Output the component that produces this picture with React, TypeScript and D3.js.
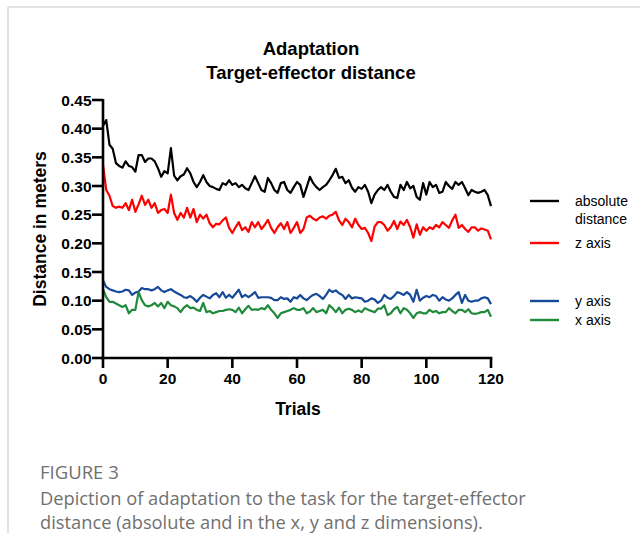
import React from "react";
import * as d3 from "d3";

const trials = d3.range(0, 121);

const absoluteDistance = [
  0.405, 0.415, 0.372, 0.365, 0.34, 0.335, 0.332, 0.343, 0.335, 0.333,
  0.325, 0.354, 0.354, 0.342, 0.348, 0.348, 0.343, 0.331, 0.316, 0.326,
  0.322, 0.366, 0.318, 0.31, 0.317, 0.32, 0.331, 0.322, 0.307, 0.298,
  0.307, 0.319, 0.307, 0.3, 0.298, 0.295, 0.293, 0.305, 0.302, 0.31,
  0.302, 0.305, 0.298, 0.302, 0.296, 0.293, 0.305, 0.317, 0.305, 0.293,
  0.29, 0.314, 0.305, 0.293, 0.288, 0.305, 0.307, 0.293, 0.288, 0.298,
  0.307, 0.302, 0.281, 0.298, 0.316, 0.305, 0.298, 0.293, 0.298, 0.302,
  0.31, 0.319, 0.33, 0.314, 0.316, 0.305, 0.31, 0.297, 0.29, 0.298,
  0.295, 0.302, 0.29, 0.27, 0.285, 0.293, 0.298, 0.293, 0.302, 0.29,
  0.281, 0.279, 0.302, 0.293, 0.307, 0.296, 0.3, 0.281, 0.276, 0.305,
  0.285, 0.307, 0.298, 0.302, 0.288, 0.29, 0.307, 0.3, 0.295, 0.307,
  0.302, 0.307, 0.296, 0.284, 0.293, 0.29, 0.288, 0.29, 0.293, 0.284,
  0.265,
];

const zAxis = [
  0.337, 0.293, 0.283, 0.265, 0.262, 0.264, 0.262, 0.27, 0.258, 0.276,
  0.255, 0.268, 0.283, 0.267, 0.276, 0.262, 0.27, 0.253, 0.258, 0.26,
  0.253, 0.285, 0.253, 0.241, 0.253, 0.245, 0.262, 0.245, 0.26, 0.237,
  0.25, 0.243, 0.25, 0.235, 0.228, 0.234, 0.233, 0.24, 0.245, 0.227,
  0.218, 0.228, 0.237, 0.223, 0.228, 0.22, 0.237, 0.228, 0.237, 0.225,
  0.232, 0.241, 0.227, 0.218, 0.228, 0.235, 0.225, 0.237, 0.218, 0.227,
  0.237, 0.218, 0.225, 0.245, 0.248, 0.243, 0.24, 0.245, 0.247, 0.243,
  0.248, 0.25, 0.255, 0.24, 0.232, 0.243, 0.237, 0.228, 0.243, 0.232,
  0.225, 0.227, 0.218, 0.204, 0.229, 0.237, 0.237, 0.232, 0.222, 0.228,
  0.239, 0.225, 0.238, 0.232, 0.241, 0.228, 0.21, 0.233, 0.215, 0.228,
  0.222, 0.228, 0.225, 0.232, 0.228, 0.237, 0.232, 0.227, 0.24, 0.25,
  0.227, 0.232, 0.225, 0.22, 0.228, 0.228, 0.222, 0.226, 0.224, 0.222,
  0.207,
];

const yAxis = [
  0.135, 0.124, 0.12, 0.118, 0.116, 0.115, 0.116, 0.119, 0.118, 0.11,
  0.114, 0.116, 0.122, 0.12, 0.12, 0.118, 0.12, 0.124, 0.118, 0.115,
  0.118, 0.12, 0.116, 0.113, 0.11, 0.106, 0.105, 0.108, 0.104, 0.098,
  0.105, 0.11, 0.107, 0.104, 0.11, 0.113, 0.106, 0.115, 0.105, 0.11,
  0.105, 0.112, 0.119, 0.106, 0.11, 0.106, 0.11, 0.115, 0.105, 0.106,
  0.106, 0.106, 0.105, 0.101, 0.101, 0.106, 0.103, 0.104, 0.098, 0.106,
  0.104, 0.11, 0.104, 0.101, 0.106, 0.11, 0.112, 0.108, 0.103, 0.11,
  0.119, 0.115, 0.118, 0.113, 0.11, 0.103, 0.11, 0.104, 0.106, 0.105,
  0.104, 0.098, 0.1, 0.104, 0.102, 0.096, 0.1, 0.11, 0.105, 0.103,
  0.108, 0.115, 0.113, 0.11, 0.115, 0.11, 0.098, 0.119, 0.1, 0.105,
  0.108, 0.106, 0.11, 0.108, 0.1, 0.106, 0.102, 0.1, 0.104, 0.11,
  0.115, 0.096, 0.11, 0.1, 0.098, 0.1, 0.1, 0.104, 0.106, 0.104,
  0.094,
];

const xAxis = [
  0.12, 0.106, 0.098, 0.098, 0.095, 0.092, 0.089, 0.092, 0.078, 0.084,
  0.084, 0.115, 0.101, 0.092, 0.09, 0.092, 0.096, 0.09, 0.096, 0.087,
  0.098, 0.092, 0.09, 0.087, 0.08, 0.088, 0.092, 0.087, 0.088, 0.084,
  0.082, 0.096, 0.08, 0.082, 0.078, 0.08, 0.082, 0.082, 0.084, 0.085,
  0.084, 0.08, 0.088, 0.078, 0.085, 0.091, 0.084, 0.085, 0.084, 0.087,
  0.085, 0.092, 0.084, 0.078, 0.07, 0.078, 0.08, 0.082, 0.084, 0.087,
  0.084, 0.084, 0.087, 0.078, 0.081, 0.087, 0.08, 0.082, 0.084, 0.078,
  0.092, 0.087, 0.08, 0.088, 0.078, 0.084, 0.086, 0.084, 0.08, 0.083,
  0.08, 0.087, 0.084, 0.082, 0.08, 0.086, 0.086, 0.092, 0.075, 0.078,
  0.085, 0.089, 0.078, 0.087, 0.084, 0.078, 0.07, 0.078, 0.08, 0.078,
  0.078, 0.084, 0.08, 0.082, 0.078, 0.08, 0.08, 0.087, 0.082, 0.078,
  0.084, 0.084, 0.08, 0.085, 0.078, 0.077, 0.078, 0.08, 0.08, 0.084,
  0.072,
];

const yTicks = [0, 0.05, 0.1, 0.15, 0.2, 0.25, 0.3, 0.35, 0.4, 0.45];
const xTicks = [0, 20, 40, 60, 80, 100, 120];

const seriesNames = ["absolute", "z axis", "y axis", "x axis"];
const seriesColors = ["#000000", "#ff0000", "#164a98", "#1f8a3b"];

export default function App() {
  const left = 103;
  const right = 491;
  const top = 100;
  const bottom = 358;
  const x = d3.scaleLinear().domain([0, 120]).range([left, right]);
  const y = d3.scaleLinear().domain([0, 0.45]).range([bottom, top]);
  const allSeries = [absoluteDistance, zAxis, yAxis, xAxis];
  const line = (vals: number[]) =>
    d3
      .line<number>()
      .x((_, i) => x(trials[i]))
      .y((v) => y(v))(vals) || "";

  const legendY = [201, 243, 301, 320];
  const font = "'Liberation Sans', Arial, sans-serif";

  return (
    <svg
      width={640}
      height={533}
      style={{ position: "absolute", left: 0, top: 0, background: "#fff" }}
    >
      <rect x={0} y={0} width={640} height={533} fill="#fff" />
      <line x1={8} y1={7} x2={640} y2={7} stroke="#d8d8d8" strokeWidth={1.5} />
      <line x1={8} y1={7} x2={8} y2={533} stroke="#d8d8d8" strokeWidth={1.5} />

      <g fontFamily={font} fontWeight="bold" textAnchor="middle" fontSize={18.5}>
        <text x={311} y={54.5}>Adaptation</text>
        <text x={311} y={78.5}>Target-effector distance</text>
      </g>

      {allSeries.map((vals, i) => (
        <path
          key={i}
          d={line(vals)}
          fill="none"
          stroke={seriesColors[i]}
          strokeWidth={2.2}
          strokeLinejoin="round"
        />
      ))}

      {/* Y axis */}
      <line x1={left} y1={top - 1} x2={left} y2={bottom + 1.5} stroke="#000" strokeWidth={2.6} />
      {yTicks.map((t) => (
        <g key={t}>
          <line x1={left - 11} x2={left} y1={y(t)} y2={y(t)} stroke="#000" strokeWidth={2.6} />
          <text
            x={left - 11.5}
            y={y(t) + 5.5}
            textAnchor="end"
            fontFamily={font}
            fontWeight="bold"
            fontSize={15.5}
          >
            {t.toFixed(2)}
          </text>
        </g>
      ))}

      {/* X axis */}
      <line x1={left - 1.3} y1={bottom} x2={right + 1.3} y2={bottom} stroke="#000" strokeWidth={2.6} />
      {xTicks.map((t) => (
        <g key={t}>
          <line x1={x(t)} x2={x(t)} y1={bottom} y2={bottom + 10} stroke="#000" strokeWidth={2.6} />
          <text
            x={x(t)}
            y={bottom + 26}
            textAnchor="middle"
            fontFamily={font}
            fontWeight="bold"
            fontSize={15.5}
          >
            {t}
          </text>
        </g>
      ))}

      <text
        x={298}
        y={414.5}
        textAnchor="middle"
        fontFamily={font}
        fontWeight="bold"
        fontSize={17.5}
      >
        Trials
      </text>
      <text
        transform={`translate(46, ${(top + bottom) / 2}) rotate(-90)`}
        textAnchor="middle"
        fontFamily={font}
        fontWeight="bold"
        fontSize={17.5}
      >
        Distance in meters
      </text>

      {/* Legend */}
      {seriesNames.map((name, i) => (
        <g key={name}>
          <line
            x1={530}
            x2={559}
            y1={legendY[i]}
            y2={legendY[i]}
            stroke={seriesColors[i]}
            strokeWidth={2.4}
          />
          <text x={575} y={legendY[i] + 5} fontFamily={font} fontSize={14}>
            {name}
          </text>
        </g>
      ))}
      <text x={575} y={224} fontFamily={font} fontSize={14}>
        distance
      </text>

      {/* Caption */}
      <g fontFamily="'Open Sans', 'Noto Sans', sans-serif" fill="#707070">
        <text x={40} y={478.5} fontSize={18.5}>FIGURE 3</text>
        <text x={40} y={504.5} fontSize={18.3}>
          Depiction of adaptation to the task for the target-effector
        </text>
        <text x={40} y={528.5} fontSize={18.3}>
          distance (absolute and in the x, y and z dimensions).
        </text>
      </g>
    </svg>
  );
}
